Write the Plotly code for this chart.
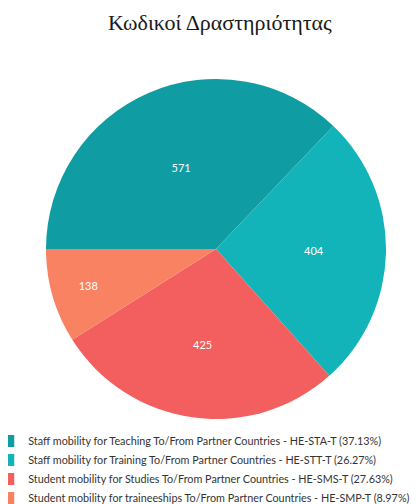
import plotly.graph_objects as go

labels = [
    "Staff mobility for Teaching To/From Partner Countries - HE-STA-T (37.13%)",
    "Staff mobility for Training To/From Partner Countries - HE-STT-T (26.27%)",
    "Student mobility for Studies To/From Partner Countries - HE-SMS-T (27.63%)",
    "Student mobility for traineeships To/From Partner Countries - HE-SMP-T (8.97%)",
]
values = [571, 404, 425, 138]
colors = ["#0f9ca2", "#13b4b9", "#f25f5e", "#f98262"]

fig = go.Figure(go.Pie(
    labels=labels,
    values=values,
    sort=False,
    direction="clockwise",
    rotation=-90,
    marker=dict(colors=colors, line=dict(width=0)),
    textinfo="value",
    textposition="inside",
    insidetextorientation="horizontal",
    textfont=dict(family="Lato", size=11, color="white"),
    hovertemplate="%{label}<br>%{value}<extra></extra>",
))

fig.update_layout(
    width=418, height=504,
    paper_bgcolor="white",
    plot_bgcolor="white",
    font=dict(family="Lato", color="#333333", size=11),
    margin=dict(l=13, r=15, t=71, b=93, autoexpand=False),
    title=dict(
        text="Κωδικοί Δραστηριότητας",
        font=dict(family="Liberation Serif", size=22, color="#1a1a1a"),
        xref="container", x=0.507, xanchor="center",
        yref="container", y=0.971, yanchor="middle",
    ),
    legend=dict(
        orientation="v",
        x=-0.084, xanchor="left",
        y=-0.022, yanchor="top",
        font=dict(family="Lato", size=10.8, color="#333333"),
        tracegroupgap=0,
        itemclick=False,
    ),
)

fig.write_html("out.html")
